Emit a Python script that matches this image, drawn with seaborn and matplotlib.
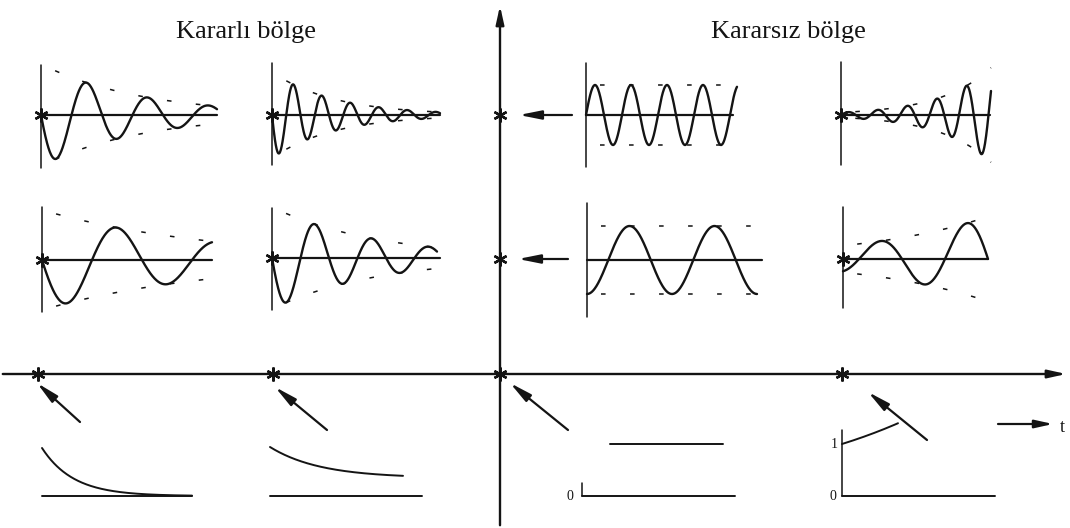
import numpy as np
import matplotlib
matplotlib.use("Agg")
import matplotlib.pyplot as plt
import seaborn as sns

sns.set_theme(style="white")
plt.rcParams['font.family'] = ['Liberation Serif', 'DejaVu Serif']

INK = "#141414"

# --- oscillating impulse responses (rows 1-2, columns 1-4) ---
# value(t) = amp * exp(sigma*t) * sin(2*pi*t/period + phase)
osc_amp = [51, 43, 30, 2.5, 50, 51, 34, 13.3]
osc_sigma = [-0.010, -0.016, 0.0, 0.0196, -0.0058, -0.0096, 0.0, 0.008]
osc_period = [61, 28.5, 36, 29.5, 100, 57, 85, 86]
osc_phase = [180, 180, 0, 0, 180, 180, -90, -67]   # degrees
osc_length = [176, 168, 151, 150, 170, 165, 170, 145]

# --- non oscillating responses on the real axis (row 3) ---
# value(t) = floor + (start - floor) * exp(sigma*t)
exp_start = [48, 49, 52, 52]
exp_floor = [0, 18, 52, 0]
exp_sigma = [-0.032, -0.02, 0.0, 0.006]
exp_length = [150, 133, 113, 56]

titles = ["Kararlı bölge", "Kararsız bölge"]

# --- layout, in pixels ---
osc_x0 = [41, 272, 586, 841, 42, 272, 587, 843]
osc_y0 = [115, 115, 115, 115, 260, 258, 260, 259]
osc_vaxis = [(65, 168), (63, 165), (63, 167), (62, 165),
             (207, 312), (208, 310), (203, 317), (207, 308)]
osc_base_end = [217, 440, 733, 990, 212, 440, 762, 988]
env_t0 = 14  # dashed envelopes start a little after the origin

exp_x0 = [42, 270, 582, 842]
exp_t0 = [0, 0, 28, 0]
exp_y0 = 496
exp_base_end = [192, 422, 735, 995]

poles = [(41, 115), (272, 115), (500, 115), (841, 115),
         (42, 260), (272, 258), (500, 259), (843, 259),
         (38, 374), (273, 374), (500, 374), (842, 374)]
pole_arrows = [((572, 115), (519, 115)), ((568, 259), (518, 259)),
               ((80, 422), (37, 383)), ((327, 430), (275, 387)),
               ((568, 430), (510, 383)), ((927, 440), (868, 392))]


def main():
    fig = plt.figure(figsize=(10.7, 5.28), dpi=100)
    ax = fig.add_axes([0, 0, 1, 1])
    ax.set_xlim(0, 1070)
    ax.set_ylim(528, 0)
    ax.axis("off")

    head = "-|>,head_length=0.9,head_width=0.2"

    # s-plane axes
    ax.annotate("", xy=(500, 3), xytext=(500, 528),
                arrowprops=dict(arrowstyle=head, lw=1.7, color=INK))
    ax.annotate("", xy=(1069, 374), xytext=(0, 374),
                arrowprops=dict(arrowstyle=head, lw=1.7, color=INK))

    ax.text(246, 32, titles[0], ha="center", va="center", fontsize=19, color=INK)
    ax.text(788, 32, titles[1], ha="center", va="center", fontsize=19, color=INK)

    # oscillating panels
    for i in range(8):
        x0, y0 = osc_x0[i], osc_y0[i]
        t = np.linspace(0, osc_length[i], 400)
        env = osc_amp[i] * np.exp(osc_sigma[i] * t)
        v = env * np.sin(2 * np.pi * t / osc_period[i] + np.deg2rad(osc_phase[i]))

        ax.plot([x0, x0], osc_vaxis[i], color=INK, lw=1.1)
        ax.plot([x0, osc_base_end[i]], [y0, y0], color=INK, lw=1.6)
        sns.lineplot(x=x0 + t, y=y0 - v, ax=ax, color=INK, lw=1.7,
                     estimator=None, sort=False)
        keep = t >= env_t0
        for sgn in (1, -1):
            ax.plot(x0 + t[keep], y0 - sgn * env[keep], color=INK, lw=1.1,
                    dashes=(3, 16))

    # real-axis panels
    for i in range(4):
        x0 = exp_x0[i]
        t = np.linspace(exp_t0[i], exp_length[i] + exp_t0[i], 200)
        v = exp_floor[i] + (exp_start[i] - exp_floor[i]) * np.exp(exp_sigma[i] * (t - exp_t0[i]))
        ax.plot([x0, exp_base_end[i]], [exp_y0, exp_y0], color=INK, lw=1.4)
        sns.lineplot(x=x0 + t, y=exp_y0 - v, ax=ax, color=INK, lw=1.4,
                     estimator=None, sort=False)

    # small axes/labels of the last two bottom panels
    ax.plot([582, 582], [483, 496], color=INK, lw=1.1)
    ax.text(570, 496, "0", ha="center", va="center", fontsize=10, color=INK)
    ax.plot([842, 842], [430, 496], color=INK, lw=1.1)
    ax.text(834, 444, "1", ha="center", va="center", fontsize=10, color=INK)
    ax.text(833, 496, "0", ha="center", va="center", fontsize=10, color=INK)

    # poles
    px, py = zip(*poles)
    ax.plot(px, py, ls="none", marker=(6, 2, 0), ms=10, mew=1.7, color=INK)

    # arrows from the responses to the poles
    for tail, tip in pole_arrows:
        ax.annotate("", xy=tip, xytext=tail,
                    arrowprops=dict(arrowstyle="-|>,head_length=1.1,head_width=0.22",
                                    lw=1.6, color=INK, shrinkA=0, shrinkB=0))

    # time arrow
    ax.annotate("", xy=(1053, 424), xytext=(998, 424),
                arrowprops=dict(arrowstyle=head, lw=1.6, color=INK,
                                shrinkA=0, shrinkB=0))
    ax.text(1062, 427, "t", ha="center", va="center", fontsize=13, color=INK)

    fig.savefig("out.png", dpi=100)


if "__main__" == __name__:
    main()
